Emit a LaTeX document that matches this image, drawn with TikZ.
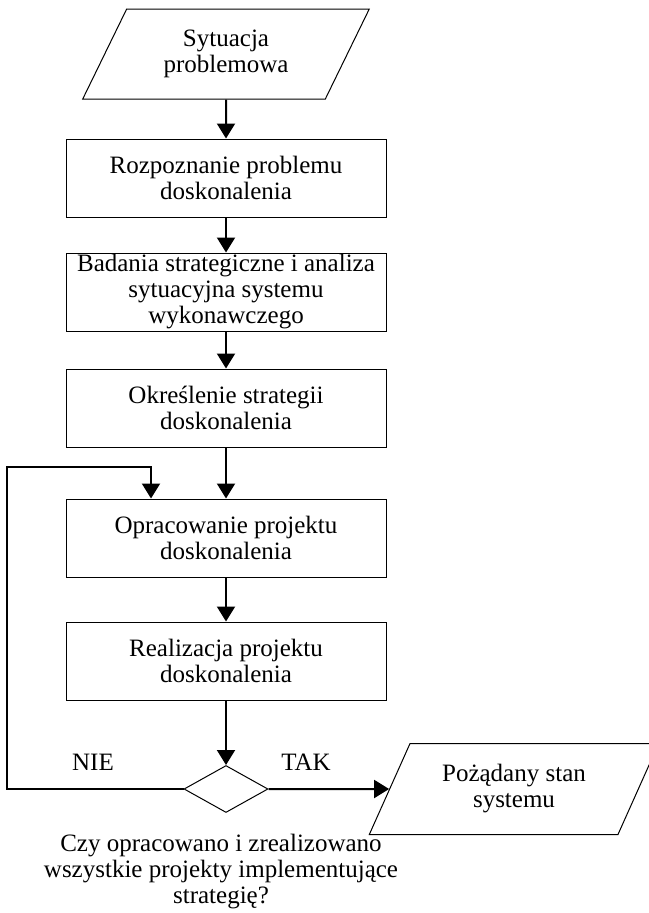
\documentclass[tikz,border=0pt]{standalone}
\usepackage{fontspec}
\setmainfont{Liberation Serif}
\usetikzlibrary{shapes.geometric,arrows.meta}
\begin{document}
\begin{tikzpicture}
  [x=1pt,y=-1pt,font=\fontsize{25}{26}\selectfont,
   box/.style={draw,line width=1pt,minimum width=320pt,minimum height=78pt,inner sep=0pt,align=center},
   io/.style={draw,line width=1pt,trapezium,trapezium left angle=60,trapezium right angle=120,
     trapezium stretches=true,minimum width=287pt,minimum height=90pt,inner sep=0pt,align=center},
   cond/.style={draw,line width=1pt,diamond,minimum width=84pt,minimum height=47pt,inner sep=0pt},
   arr/.style={line width=2pt,-{Triangle[width=18pt,length=15pt]}}]
  \useasboundingbox (0,0) rectangle (648,913);
  \node[io] (sit) at (226,54) {Sytuacja\\problemowa};
  \node[box] (rozp) at (226,178) {Rozpoznanie problemu\\doskonalenia};
  \node[box] (bad) at (226,292) {Badania strategiczne i analiza\\sytuacyjna systemu\\wykonawczego};
  \node[box] (okr) at (226,408) {Określenie strategii\\doskonalenia};
  \node[box] (opr) at (226,538) {Opracowanie projektu\\doskonalenia};
  \node[box] (real) at (226,661) {Realizacja projektu\\doskonalenia};
  \node[cond] (czy) at (226,789) {};
  \node[io,minimum width=290pt,minimum height=91pt] (stan) at (514,789) {Pożądany stan\\systemu};
  \node (nie) at (93,762) {NIE};
  \node (tak) at (306,762) {TAK};
  \node[align=center] (pyt) at (221,872) {Czy opracowano i zrealizowano\\wszystkie projekty implementujące\\strategię?};
  \coordinate (lg) at (7,467);
  \coordinate (lp) at (151,467);
 \path[arr]
        (sit) edge (rozp)
        (rozp) edge (bad)
        (bad) edge (okr)
        (okr) edge (opr)
        (opr) edge (real)
        (real) edge (czy)
        (czy) edge (stan);
 \draw[arr] (czy.west) -| (lg) -- (lp) -- (lp |- opr.north);

\end{tikzpicture}
\end{document}
